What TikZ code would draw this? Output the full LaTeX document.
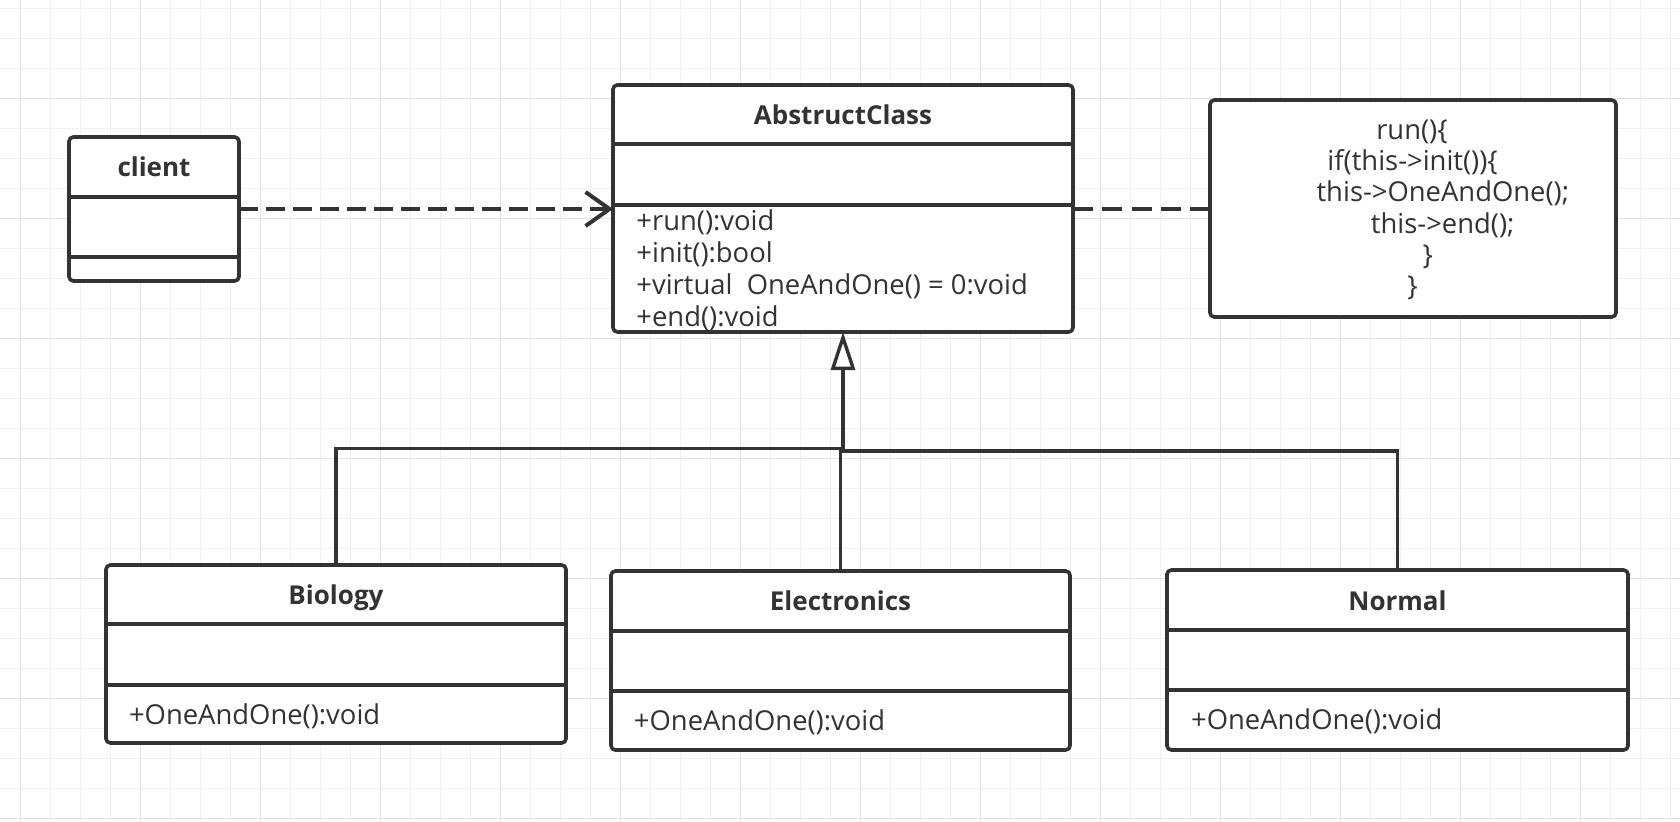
\documentclass[tikz,border=0pt]{standalone}
\usepackage{fontspec}
\setmainfont{Open Sans}
\usetikzlibrary{arrows.meta}
\definecolor{ink}{HTML}{333333}
\definecolor{gridminor}{RGB}{241,241,241}
\definecolor{gridmajor}{RGB}{226,226,226}
\begin{document}
\begin{tikzpicture}[x=0.5pt,y=-0.5pt,
  umlbox/.style={draw=ink, line width=1.8pt, fill=white, rounded corners=2.2pt,
    inner sep=0pt, outer sep=0pt, anchor=north west},
  sepline/.style={draw=ink, line width=1.8pt},
  ttl/.style={text=ink, font=\fontsize{13}{15.9}\selectfont\bfseries, inner sep=0pt, anchor=base},
  mth/.style={text=ink, font=\fontsize{13.7}{15.9}\selectfont, inner sep=0pt, anchor=base west},
  code/.style={text=ink, font=\fontsize{13.7}{15.9}\selectfont, inner sep=0pt, anchor=base},
  dep/.style={draw=ink, line width=2pt, dash pattern=on 9.5pt off 4pt},
  conn/.style={draw=ink, line width=1.7pt},
  gmin/.style={draw=gridminor, line width=0.5pt},
  gmaj/.style={draw=gridmajor, line width=0.5pt}]
\useasboundingbox (0,0) rectangle (1680,821);
\fill[white] (0,0) rectangle (1680,821);
% grid
\foreach \i in {0,...,55} \draw[gmin] ({20.7+30*\i},0) -- ({20.7+30*\i},821);
\foreach \j in {0,...,27} \draw[gmin] (0,{8.3+30*\j}) -- (1680,{8.3+30*\j});
\foreach \i in {0,...,13} \draw[gmaj] ({20.7+120*\i},0) -- ({20.7+120*\i},821);
\foreach \j in {0,...,6} \draw[gmaj] (0,{98.3+120*\j}) -- (1680,{98.3+120*\j});

% client
\node[umlbox, minimum width=85pt, minimum height=72pt] (client) at (69,137) {};
\draw[sepline] (client.west |- 0,197) -- (client.east |- 0,197);
\draw[sepline] (client.west |- 0,257) -- (client.east |- 0,257);
\node[ttl] (clientT) at (154,176) {client};

% AbstructClass
\node[umlbox, minimum width=230pt, minimum height=123.5pt] (abs) at (613,85) {};
\draw[sepline] (abs.west |- 0,144) -- (abs.east |- 0,144);
\draw[sepline] (abs.west |- 0,205) -- (abs.east |- 0,205);
\node[ttl] (absT) at (843,124.3) {AbstructClass};
\node[mth] (absM1) at (636,230.7) {+run():void};
\node[mth] (absM2) at (636,262.5) {+init():bool};
\node[mth] (absM3) at (636,294.3) {+virtual\ \ OneAndOne() = 0:void};
\node[mth] (absM4) at (636,326) {+end():void};

% note
\node[umlbox, minimum width=203pt, minimum height=108.5pt] (note) at (1210,100) {};
\node[code] (n1) at (1412,139.5) {run()\{};
\node[code] (n2) at (1412.6,170.7) {if(this->init())\{};
\node[code] (n3) at (1442.8,201.9) {this->OneAndOne();};
\node[code] (n4) at (1442.7,233.1) {this->end();};
\node[code] (n5) at (1427.7,264.3) {\}};
\node[code] (n6) at (1412.6,295.5) {\}};

% subclasses
\node[umlbox, minimum width=230pt, minimum height=89pt] (bio) at (106,565) {};
\draw[sepline] (bio.west |- 0,624) -- (bio.east |- 0,624);
\draw[sepline] (bio.west |- 0,685) -- (bio.east |- 0,685);
\node[ttl] (bioT) at (336,604.3) {Biology};
\node[mth] (bioM) at (128.6,724) {+OneAndOne():void};

\node[umlbox, minimum width=229.5pt, minimum height=89.5pt] (elec) at (611,571) {};
\draw[sepline] (elec.west |- 0,631) -- (elec.east |- 0,631);
\draw[sepline] (elec.west |- 0,691) -- (elec.east |- 0,691);
\node[ttl] (elecT) at (840.5,610.5) {Electronics};
\node[mth] (elecM) at (633.5,730) {+OneAndOne():void};

\node[umlbox, minimum width=230.5pt, minimum height=90pt] (norm) at (1167,570) {};
\draw[sepline] (norm.west |- 0,630) -- (norm.east |- 0,630);
\draw[sepline] (norm.west |- 0,690) -- (norm.east |- 0,690);
\node[ttl] (normT) at (1397.5,610) {Normal};
\node[mth] (normM) at (1190.7,729) {+OneAndOne():void};

% connectors
\draw[dep, -{Straight Barb[length=12pt,width=17pt]}] (client.east) -- (client.east -| abs.west);
\draw[dep, dash pattern=on 10pt off 4.625pt] (abs.east) -- (abs.east -| note.west);
\coordinate (jl) at (843,448.3);
\coordinate (jr) at (840.5,451);
\draw[conn, -{Triangle[open,length=19pt,width=12pt,fill=white]}] (bio.north) |- (jl) -- (abs.south);
\draw[conn] (norm.north) |- (jr) -- (elec.north);
\end{tikzpicture}
\end{document}
